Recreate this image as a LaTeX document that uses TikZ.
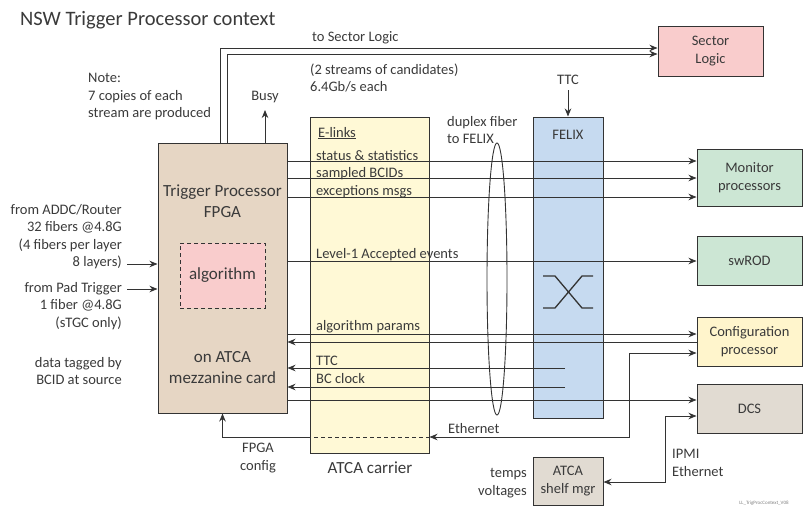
\documentclass[tikz,border=0pt]{standalone}
\usepackage{fontspec}
\setmainfont{Carlito}
\usetikzlibrary{arrows.meta,shapes.geometric}

\definecolor{linegray}{HTML}{333333}
\definecolor{textgray}{HTML}{3A3A3A}
\definecolor{fpgaclr}{HTML}{E6D6C4}
\definecolor{pinkclr}{HTML}{F9CCCC}
\definecolor{carrierclr}{HTML}{FFF9D6}
\definecolor{cfgclr}{HTML}{FFF5CC}
\definecolor{felixclr}{HTML}{C6DAF0}
\definecolor{greenclr}{HTML}{CCE6D4}
\definecolor{grayclr}{HTML}{E1DBD2}

\newcommand{\lblfont}{\fontsize{14.5}{17.5}\selectfont}
\newcommand{\boxfont}{\fontsize{17}{21}\selectfont}
\newcommand{\titlefont}{\fontsize{20.5}{24}\selectfont}

\tikzset{
  blk/.style={draw=linegray, line width=1pt, align=center, inner sep=0pt,
    text=textgray, font=\lblfont, minimum width=105pt, minimum height=49pt},
  lnk/.style={draw=linegray, line width=0.9pt},
  txt/.style={inner sep=0pt, text=textgray, font=\lblfont, align=center}
}

\begin{document}
\begin{tikzpicture}[x=1pt, y=-1pt, >={Stealth[length=8pt,width=6.5pt]}]
\useasboundingbox (0,0) rectangle (803,506);
% Title
\node[txt, anchor=base west, font=\titlefont] (title) at (20,25) {NSW Trigger Processor context};
% Carrier and FELIX
\node[blk, fill=carrierclr, minimum width=119pt, minimum height=336pt] (carrier) at (369.5,285) {};
\node[blk, fill=felixclr, minimum width=70pt, minimum height=301pt] (felix) at (568,267.5) {};
\node[txt] (felixlbl) at (568,135) {FELIX};
\node[txt, anchor=base west] (elinks) at (318,137) {\underline{E-links}};
\node[txt, font=\boxfont] (carrierlbl) at (370,468) {ATCA carrier};
% FPGA
\node[blk, fill=fpgaclr, minimum width=129pt, minimum height=270pt] (fpga) at (222.5,278) {};
\node[blk, fill=pinkclr, dash pattern=on 4pt off 3pt, minimum width=85pt, minimum height=65pt, font=\boxfont] (algo) at (222.5,275.5) {algorithm};
\node[txt, font=\boxfont] (fpgatop) at (222.5,201) {Trigger Processor\\FPGA};
\node[txt, font=\boxfont] (fpgabot) at (222.5,368) {on ATCA\\mezzanine card};
% Right-hand boxes
\node[blk, fill=pinkclr, minimum height=50pt] (sl) at (710.5,51) {Sector\\Logic};
\node[blk, fill=greenclr, minimum height=57pt] (mon) at (749.5,177.5) {Monitor\\processors};
\node[blk, fill=greenclr] (swrod) at (749.5,260.5) {swROD};
\node[blk, fill=cfgclr] (cfg) at (749.5,341.5) {Configuration\\processor};
\node[blk, fill=grayclr] (dcs) at (749.5,408.5) {DCS};
\node[blk, fill=grayclr, minimum width=70pt, minimum height=48pt] (shelf) at (568,481) {ATCA\\shelf mgr};
% Inputs
\node[txt, anchor=east, align=right] (addc) at (122,236.5) {from ADDC/Router\\32 fibers @4.8G\\(4 fibers per layer\\8 layers)};
\node[txt, anchor=east, align=right] (pad) at (122,306) {from Pad Trigger\\1 fiber @4.8G\\(sTGC only)};
\node[txt, anchor=east, align=right] (bcid) at (122,371) {data tagged by\\BCID at source};
\coordinate (inA) at (127,264);
\coordinate (inB) at (127,289);
\draw[lnk,->] (inA) -- (fpga.west |- inA);
\draw[lnk,->] (inB) -- (fpga.west |- inB);
% To Sector Logic
\node[txt, anchor=west, align=left] (note) at (88,97) {Note:\\7 copies of each\\stream are produced};
\coordinate (slA) at (220,48);
\coordinate (slB) at (227,54);
\draw[lnk,->] (fpga.north -| slA) -- (slA) -- (sl.west |- slA);
\draw[lnk,->] (fpga.north -| slB) -- (slB) -- (sl.west |- slB);
\node[txt, anchor=base west] (tosl) at (312,41) {to Sector Logic};
\node[txt, anchor=west, align=left] (streams) at (310,78) {(2 streams of candidates)\\6.4Gb/s each};
% Busy
\coordinate (busy) at (265,110);
\draw[lnk,->] (fpga.north -| busy) -- (busy);
\node[txt] (busylbl) at (265,97) {Busy};
% TTC into FELIX
\coordinate (ttctop) at (568,90);
\draw[lnk,->] (ttctop) -- (felix.north);
\node[txt] (ttclbl) at (568,80) {TTC};
% Monitoring and L1A
\coordinate (yStat) at (0,161);
\coordinate (yBcid) at (0,178);
\coordinate (yExc) at (0,197);
\coordinate (yLone) at (0,261);
\draw[lnk,->] (fpga.east |- yStat) -- (mon.west |- yStat);
\draw[lnk,->] (fpga.east |- yBcid) -- (mon.west |- yBcid);
\draw[lnk,->] (fpga.east |- yExc) -- (mon.west |- yExc);
\draw[lnk,->] (fpga.east |- yLone) -- (swrod.west |- yLone);
\node[txt, anchor=base west] (statlbl) at (316,160) {status \& statistics};
\node[txt, anchor=base west] (bcidlbl) at (316,177) {sampled BCIDs};
\node[txt, anchor=base west] (exclbl) at (316,195) {exceptions msgs};
\node[txt, anchor=base west] (lonelbl) at (316,258) {Level-1 Accepted events};
% Configuration
\coordinate (yParA) at (0,334);
\coordinate (yParB) at (0,342);
\draw[lnk,->] (fpga.east |- yParA) -- (cfg.west |- yParA);
\draw[lnk,->] (cfg.west |- yParB) -- (fpga.east |- yParB);
\node[txt, anchor=base west] (parlbl) at (316,330) {algorithm params};
% TTC and clock from FELIX
\coordinate (ttcsrc) at (565,368);
\coordinate (clksrc) at (565,387);
\draw[lnk,->] (ttcsrc) -- (fpga.east |- ttcsrc);
\draw[lnk,->] (clksrc) -- (fpga.east |- clksrc);
\node[txt, anchor=base west] (ttcin) at (316,365) {TTC};
\node[txt, anchor=base west] (clkin) at (316,383) {BC clock};
% DCS
\coordinate (yDcs) at (0,400);
\draw[lnk,->] (fpga.east |- yDcs) -- (dcs.west |- yDcs);
% Ethernet
\coordinate (ethA) at (629,353);
\coordinate (ethB) at (629,437);
\draw[lnk,<->] (cfg.west |- ethA) -- (ethA) -- (ethB) -- (carrier.east |- ethB);
\draw[lnk, dash pattern=on 4pt off 3pt] (carrier.east |- ethB) -- (carrier.west |- ethB);
\draw[lnk,->] (carrier.west |- ethB) -| (fpga.south);
\node[txt, anchor=base west] (ethlbl) at (448,433) {Ethernet};
\node[txt] (cfglbl) at (258,458) {FPGA\\config};
% IPMI
\coordinate (ipmiA) at (665,416);
\coordinate (ipmiB) at (665,482);
\draw[lnk,<->] (dcs.west |- ipmiA) -- (ipmiA) -- (ipmiB) -- (shelf.east |- ipmiB);
\node[txt, anchor=west, align=left] (ipmilbl) at (672,463) {IPMI\\Ethernet};
\node[txt, anchor=east, align=right] (temps) at (527,483) {temps\\voltages};
% Fiber and switch
\node[draw=linegray, line width=0.9pt, ellipse, minimum width=20pt, minimum height=272pt, inner sep=0pt] (fiber) at (497,279) {};
\node[txt, anchor=west, align=left] (fiberlbl) at (447,130) {duplex fiber\\to FELIX};
\draw[linegray, line width=1.3pt] (543,276) -- (555,276) -- (582,308) -- (593,308);
\draw[linegray, line width=1.3pt] (543,308) -- (555,308) -- (582,276) -- (593,276);
% Version tag
\node[txt, font=\fontsize{5}{6}\selectfont, text=gray] (ver) at (764,503) {LL\_TrigProcContext\_V08};
\end{tikzpicture}
\end{document}
